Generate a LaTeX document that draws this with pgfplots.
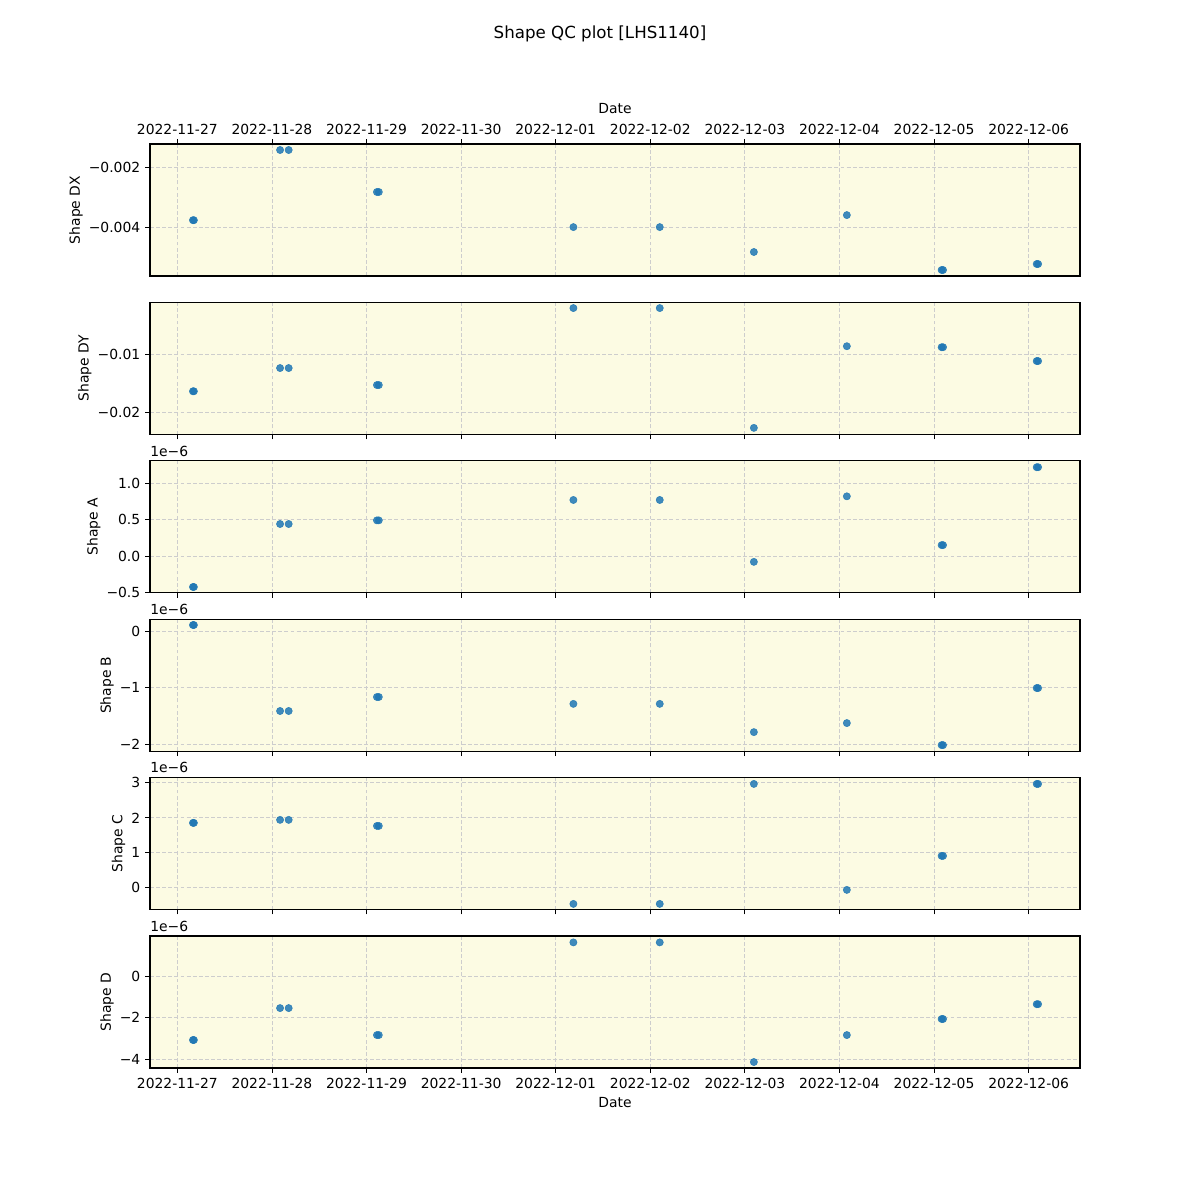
\documentclass[border=0pt]{standalone}
\usepackage{fontspec}
\setmainfont{DejaVu Sans}
\usepackage{pgfplots}
\pgfplotsset{compat=1.18}
\definecolor{bgy}{RGB}{252,251,227}
\definecolor{mpblue}{HTML}{1F77B4}
\definecolor{gridc}{RGB}{205,205,205}
\tikzset{off/.style={font=\fontsize{10}{12}\selectfont, anchor=south west, inner sep=0pt, yshift=3pt}}
\pgfplotsset{qc/.style={
  scale only axis, width=669.6pt, height=95.04pt,
  xmin=-0.289, xmax=9.543,
  axis background/.style={fill=bgy},
  xtick={0,1,2,3,4,5,6,7,8,9},
  xticklabels={},
  grid=major,
  grid style={gridc, line width=0.6pt, dash pattern=on 2.8pt off 1.6pt},
  tick align=outside, major tick length=3.5pt,
  xtick pos=lower, ytick pos=left,
  tick style={black, line width=0.6pt},
  axis line style={line width=0.8pt},
  ticklabel style={font=\fontsize{10}{12}\selectfont},
  label style={font=\fontsize{10}{12}\selectfont},
  ylabel shift=-2.5pt,
  /pgf/number format/assume math mode=true,
  scaled y ticks=false,
  clip mode=individual,
}, dates/.style={xticklabels={2022-11-27,2022-11-28,2022-11-29,2022-11-30,2022-12-01,2022-12-02,2022-12-03,2022-12-04,2022-12-05,2022-12-06}},
pts/.style={only marks, mark=*, mark size=2.6pt, mark options={fill=mpblue, draw=mpblue, fill opacity=0.85, draw opacity=0.85}}
}
\begin{document}
\begin{tikzpicture}
\path[use as bounding box] (0pt,0pt) rectangle (864pt,-864pt);
\node[font=\fontsize{12}{14}\selectfont] at (432pt,-24.3pt) {Shape QC plot [LHS1140]};

% Panel 1: Shape DX
\begin{axis}[qc, dates, at={(108pt,-103.68pt)}, anchor=north west,
  xtick pos=upper, xticklabel pos=upper, xlabel={Date},
  ylabel={Shape DX},
  ymin=-0.00563, ymax=-0.00123,
  ytick={-0.004,-0.002}, yticklabels={−0.004,−0.002}]
\addplot[pts] table {
x y
0.165 -0.00377
0.175 -0.00377
1.086 -0.00143
1.177 -0.00143
2.11 -0.00283
2.13 -0.00283
4.187 -0.00400
5.100 -0.00400
6.095 -0.00483
7.078 -0.00360
8.080 -0.00543
8.095 -0.00543
9.085 -0.00523
9.100 -0.00523
};
\end{axis}

% Panel 2: Shape DY
\begin{axis}[qc, at={(108pt,-217.728pt)}, anchor=north west,
  ylabel={Shape DY},
  ymin=-0.02372, ymax=-0.00110,
  ytick={-0.02,-0.01}, yticklabels={−0.02,−0.01}]
\addplot[pts] table {
x y
0.165 -0.01633
0.175 -0.01633
1.086 -0.01235
1.177 -0.01235
2.11 -0.01526
2.13 -0.01526
4.187 -0.00207
5.100 -0.00207
6.095 -0.02260
7.078 -0.00861
8.080 -0.00878
8.095 -0.00878
9.085 -0.01115
9.100 -0.01115
};
\end{axis}

% Panel 3: Shape A (x 1e-6)
\begin{axis}[qc, at={(108pt,-331.776pt)}, anchor=north west,
  ylabel={Shape A},
  ymin=-0.505, ymax=1.308,
  ytick={-0.5,0,0.5,1}, yticklabels={−0.5,0.0,0.5,1.0}]
\addplot[pts] table {
x y
0.165 -0.425
0.175 -0.425
1.086 0.44
1.177 0.44
2.11 0.49
2.13 0.49
4.187 0.77
5.100 0.77
6.095 -0.08
7.078 0.82
8.080 0.15
8.095 0.15
9.085 1.22
9.100 1.22
};
\node[off] at (rel axis cs:0,1) {1e−6};
\end{axis}

% Panel 4: Shape B
\begin{axis}[qc, at={(108pt,-445.824pt)}, anchor=north west,
  ylabel={Shape B},
  ymin=-2.128, ymax=0.209,
  ytick={-2,-1,0}, yticklabels={−2,−1,0}]
\addplot[pts] table {
x y
0.165 0.106
0.175 0.106
1.086 -1.416
1.177 -1.416
2.11 -1.168
2.13 -1.168
4.187 -1.29
5.100 -1.29
6.095 -1.79
7.078 -1.63
8.080 -2.02
8.095 -2.02
9.085 -1.01
9.100 -1.01
};
\node[off] at (rel axis cs:0,1) {1e−6};
\end{axis}

% Panel 5: Shape C
\begin{axis}[qc, at={(108pt,-559.872pt)}, anchor=north west,
  ylabel={Shape C},
  ymin=-0.62, ymax=3.15,
  ytick={0,1,2,3}, yticklabels={0,1,2,3}]
\addplot[pts] table {
x y
0.165 1.857
0.175 1.857
1.086 1.943
1.177 1.943
2.11 1.77
2.13 1.77
4.187 -0.457
5.100 -0.457
6.095 2.97
7.078 -0.057
8.080 0.914
8.095 0.914
9.085 2.97
9.100 2.97
};
\node[off] at (rel axis cs:0,1) {1e−6};
\end{axis}

% Panel 6: Shape D
\begin{axis}[qc, dates, at={(108pt,-673.92pt)}, anchor=north west,
  xlabel={Date},
  ylabel={Shape D},
  ymin=-4.44, ymax=1.97,
  ytick={-4,-2,0}, yticklabels={−4,−2,0}]
\addplot[pts] table {
x y
0.165 -3.08
0.175 -3.08
1.086 -1.53
1.177 -1.53
2.11 -2.84
2.13 -2.84
4.187 1.66
5.100 1.66
6.095 -4.15
7.078 -2.84
8.080 -2.06
8.095 -2.06
9.085 -1.34
9.100 -1.34
};
\node[off] at (rel axis cs:0,1) {1e−6};
\end{axis}
\end{tikzpicture}
\end{document}
